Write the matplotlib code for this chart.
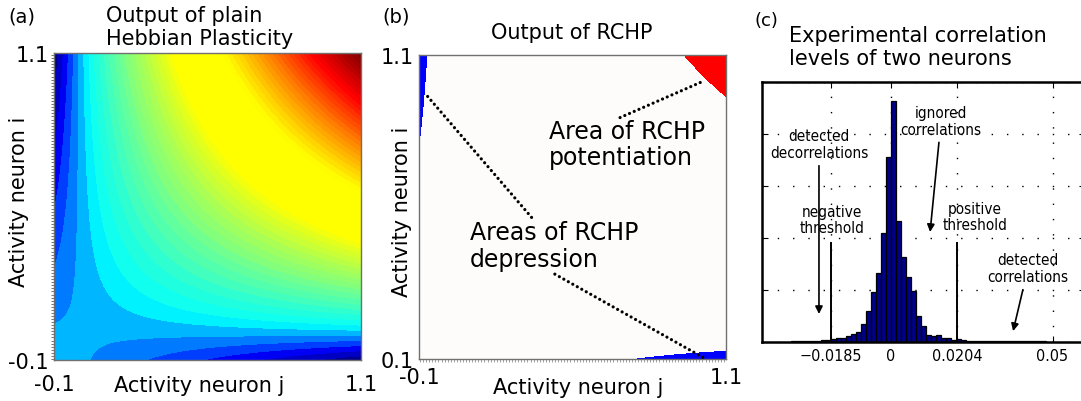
import numpy as np
import matplotlib
matplotlib.use('Agg')
import matplotlib.pyplot as plt
from matplotlib.colors import LinearSegmentedColormap
from matplotlib.ticker import MultipleLocator

plt.rcParams['font.family'] = ['DejaVu Sans']

W, H = 1081, 402

# activity range of both neurons (panels a and b)
act_min, act_max = -0.1, 1.1
n_grid = 400

# contour levels of panel (a): step and one reference boundary
level_step = 0.022
level_ref = -0.004

# RCHP thresholds applied to the Hebbian product
theta_pos = 1.03
theta_neg = -0.072

# jet-like colour anchors for the Hebbian output (value, rgb)
hebb_anchors = [(-0.110, (0.00, 0.00, 0.50)),
                (-0.081, (0.00, 0.00, 0.80)),
                (-0.059, (0.00, 0.00, 1.00)),
                (-0.037, (0.00, 0.25, 1.00)),
                (-0.015, (0.00, 0.50, 1.00)),
                (0.007, (0.00, 0.75, 1.00)),
                (0.029, (0.00, 1.00, 1.00)),
                (0.200, (0.50, 1.00, 0.50)),
                (0.400, (1.00, 1.00, 0.00)),
                (0.620, (1.00, 1.00, 0.00)),
                (0.800, (1.00, 0.55, 0.00)),
                (1.000, (1.00, 0.00, 0.00)),
                (1.210, (0.50, 0.00, 0.00))]

# experimental correlation histogram (panel c)
corr_first_edge = -0.0311
corr_bin_width = 0.00155
corr_counts = [0.005, 0.006, 0.008, 0.010, 0.012,
               0.015, 0.02, 0.03, 0.04, 0.06, 0.07, 0.10, 0.14, 0.19, 0.34,
               0.59, 0.95, 1.32, 2.09, 3.56,
               4.64,
               2.32, 1.63, 1.25, 0.98, 0.50, 0.29, 0.13, 0.10, 0.12, 0.07,
               0.06, 0.03, 0.04, 0.02, 0.015,
               0.012, 0.010, 0.010, 0.008, 0.008, 0.007, 0.006, 0.006,
               0.005, 0.005, 0.004, 0.004, 0.003, 0.003, 0.003]
neg_threshold = -0.0185
pos_threshold = 0.0204
corr_ticks = [-0.0185, 0, 0.0204, 0.05]
corr_ticklabels = ['\u22120.0185', '0', '0.0204', '0.05']


def px_box(left, top, right, bottom):
    return [left / W, 1 - bottom / H, (right - left) / W, (bottom - top) / H]


def fig_text(x, y, s, **kw):
    fig.text(x / W, 1 - y / H, s, **kw)


fig = plt.figure(figsize=(W / 100, H / 100), dpi=100)

a = np.linspace(act_min, act_max, n_grid)
xj, xi = np.meshgrid(a, a)
hebb = xj * xi          # plain Hebbian rule: product of both activities

# ---- (a) plain Hebbian plasticity
vmin, vmax = hebb_anchors[0][0], hebb_anchors[-1][0]
cmap = LinearSegmentedColormap.from_list(
    'hebb', [((v - vmin) / (vmax - vmin), c) for v, c in hebb_anchors])
ax1 = fig.add_axes(px_box(54, 54, 361, 361))
levels = level_ref + level_step * np.arange(-6, 57)
ax1.contourf(xj, xi, hebb, levels=levels, cmap=cmap, vmin=vmin, vmax=vmax,
             extend='both')

# ---- (b) RCHP output
ax2 = fig.add_axes(px_box(419, 56, 726, 360))
ax2.contourf(xj, xi, hebb, levels=[vmin - 1, theta_neg, theta_pos, vmax + 1],
             colors=['#0000ff', '#fdfcfa', '#ff0000'])

for ax, ylab in ((ax1, '-0.1'), (ax2, '0.1')):
    ax.set_xlim(act_min, act_max)
    ax.set_ylim(act_min, act_max)
    ax.set_xticks([act_min, act_max])
    ax.set_xticklabels(['-0.1', '1.1'])
    ax.set_yticks([act_min, act_max])
    ax.set_yticklabels([ylab, '1.1'])
    ax.tick_params(length=0, labelsize=15, pad=4)
    for sp in ax.spines.values():
        sp.set_color('#707070')
        sp.set_linewidth(1.0)
    ax.set_xlabel('Activity neuron j', fontsize=15, va='center')
    ax.set_ylabel('Activity neuron i', fontsize=15, va='center')

ax1.tick_params(axis='x', pad=10)
ax2.tick_params(axis='x', pad=6)

ax1.yaxis.set_minor_locator(MultipleLocator(0.012))
ax1.tick_params(axis='y', which='minor', length=2, width=0.6, color='#606060')
ax2.xaxis.set_minor_locator(MultipleLocator(0.012))
ax2.tick_params(axis='x', which='minor', length=2, width=0.6, color='#909090')

ax1.xaxis.set_label_coords(0.472, -0.081)
ax1.yaxis.set_label_coords(-0.114, 0.52)
ax2.xaxis.set_label_coords(0.518, -0.092)
ax2.yaxis.set_label_coords(-0.055, 0.487)

# dotted leader lines and labels of the RCHP areas
dots = dict(arrowstyle='-', linestyle=(0, (0.01, 1.6)), lw=2.3, color='k',
            capstyle='round', shrinkA=0, shrinkB=0)
ax2.annotate('', xy=(-0.071, 0.942), xytext=(0.340, 0.459), arrowprops=dots)
ax2.annotate('', xy=(1.016, -0.097), xytext=(0.431, 0.235), arrowprops=dots)
ax2.annotate('', xy=(1.012, 0.997), xytext=(0.686, 0.853), arrowprops=dots)
ax2.text(0.409, 0.669, 'Area of RCHP\npotentiation', fontsize=17,
         va='baseline', ha='left', linespacing=1.12)
ax2.text(0.0985, 0.268, 'Areas of RCHP\ndepression', fontsize=17,
         va='baseline', ha='left', linespacing=1.12)

# ---- (c) correlation histogram
ax3 = fig.add_axes(px_box(761.8, 83, 1084.8, 342.5))
edges = corr_first_edge + corr_bin_width * np.arange(len(corr_counts))
ax3.bar(edges, corr_counts, width=corr_bin_width, align='edge',
        color='#000088', edgecolor='k', linewidth=0.9, zorder=2)
ax3.set_xlim(-0.04, 0.06)
ax3.set_ylim(0, 5)
ax3.set_xticks(corr_ticks)
ax3.set_xticklabels(corr_ticklabels)
ax3.set_yticks(range(6))
ax3.set_yticklabels([])
ax3.grid(True, color='k', linestyle=(0, (1, 10)), linewidth=1.0)
ax3.tick_params(direction='in', top=True, right=True, length=4,
                labelsize=11.5, pad=5)
for lab in ax3.get_xticklabels():
    lab.set_fontstretch('condensed')
for sp in ax3.spines.values():
    sp.set_linewidth(1.8)

for thr in (neg_threshold, pos_threshold):
    ax3.vlines(thr, 0, 1.92, color='k', lw=1.4, zorder=3)

small = dict(fontsize=11, ha='center', va='center', fontstretch='condensed',
             linespacing=1.15)
arr = dict(arrowstyle='-|>', color='k', lw=1.2, mutation_scale=11,
           shrinkA=2, shrinkB=0)
ax3.annotate('detected\ndecorrelations', xy=(-0.0223, 0.53),
             xytext=(-0.0223, 3.8), arrowprops=arr, **small)
ax3.annotate('ignored\ncorrelations', xy=(0.0121, 2.11),
             xytext=(0.0155, 4.25), arrowprops=arr, **small)
ax3.annotate('detected\ncorrelations', xy=(0.0378, 0.2),
             xytext=(0.0424, 1.41), arrowprops=arr, **small)
ax3.text(-0.0183, 2.35, 'negative\nthreshold', **small)
ax3.text(0.026, 2.41, 'positive\nthreshold', **small)

# panel letters and titles
fig_text(8, 22.7, '(a)', fontsize=14, va='baseline')
fig_text(382, 22.7, '(b)', fontsize=14, va='baseline')
fig_text(754, 26.3, '(c)', fontsize=13, va='baseline')
fig_text(106, 45, 'Output of plain\nHebbian Plasticity', fontsize=15,
         va='baseline', ha='left', linespacing=1.2)
fig_text(572, 39, 'Output of RCHP', fontsize=15, va='baseline', ha='center')
fig_text(789, 65, 'Experimental correlation\nlevels of two neurons',
         fontsize=15, va='baseline', ha='left', linespacing=1.2)

fig.savefig('out.png', dpi=100)
